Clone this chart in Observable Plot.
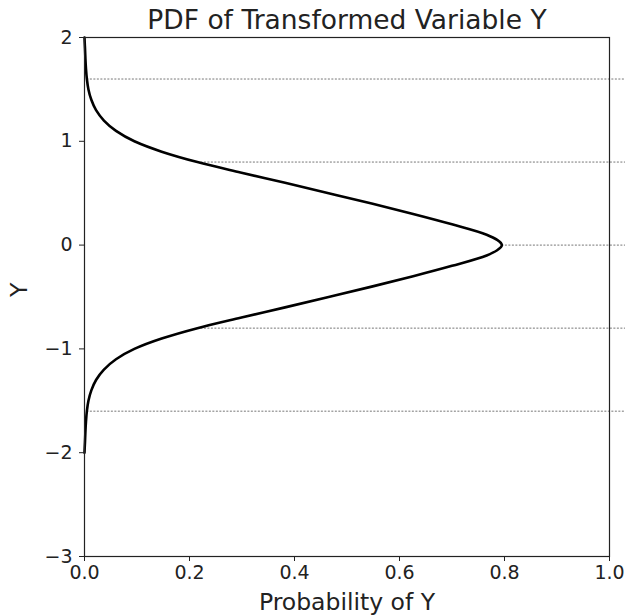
<!DOCTYPE html>
<html>
<head>
<meta charset="utf-8">
<script src="https://cdn.jsdelivr.net/npm/d3@7"></script>
<script src="https://cdn.jsdelivr.net/npm/@observablehq/plot@0.6"></script>
<style>
  html, body { margin: 0; padding: 0; background: #fff; }
</style>
</head>
<body>
<div id="chart"></div>
<script>
const titleText = "PDF of Transformed Variable Y";
const xLabelText = "Probability of Y";
const yLabelText = "Y";

// curve (Y value, probability)
const curveY = [-2.0, -1.95, -1.9, -1.8, -1.7, -1.6, -1.5, -1.4, -1.3, -1.2, -1.1, -1.0, -0.9, -0.8, -0.7, -0.6, -0.5, -0.4, -0.3, -0.2, -0.1, -0.05, 0.0,
                0.05, 0.1, 0.2, 0.3, 0.4, 0.5, 0.6, 0.7, 0.8, 0.9, 1.0, 1.1, 1.2, 1.3, 1.4, 1.5, 1.6, 1.7, 1.8, 1.9, 1.95, 2.0];
const curveP = [0.000, 0.0004, 0.0009, 0.0017, 0.0028, 0.0045, 0.0075, 0.013, 0.022, 0.037, 0.060, 0.095, 0.147, 0.215, 0.297, 0.382, 0.465, 0.547, 0.626, 0.700, 0.766, 0.786, 0.795,
                0.786, 0.766, 0.700, 0.626, 0.547, 0.465, 0.382, 0.297, 0.215, 0.147, 0.095, 0.060, 0.037, 0.022, 0.013, 0.0075, 0.0045, 0.0028, 0.0017, 0.0009, 0.0004, 0.000];

// dotted reference lines
const refY = [1.6, 0.8, 0.0, -0.8, -1.6];
const refStart = [0.0045, 0.215, 0.795, 0.215, 0.0045];
const refEnd = 1.04;

const xTicks = [0, 0.2, 0.4, 0.6, 0.8, 1.0];
const yTicks = [-3, -2, -1, 0, 1, 2];

const curve = curveY.map((y, i) => ({y, p: curveP[i]}));
const refs = refY.map((y, i) => ({y, x1: refStart[i]}));

const chart = Plot.plot({
  width: 625,
  height: 616,
  marginLeft: 84,
  marginRight: 16,
  marginTop: 37,
  marginBottom: 60,
  style: {fontFamily: "'DejaVu Sans', sans-serif", fontSize: "19px", color: "#222", background: "#fff", overflow: "visible"},
  x: {domain: [0, 1]},
  y: {domain: [-3, 2]},
  marks: [
    Plot.ruleY(refs, {y: "y", x1: "x1", x2: refEnd, stroke: "#666", strokeWidth: 0.9, strokeDasharray: "2,1.5", clip: false}),
    Plot.line(curve, {x: "p", y: "y", curve: "monotone-y", stroke: "#000", strokeWidth: 2.6}),
    Plot.frame({stroke: "#222", strokeWidth: 1.2}),
    Plot.axisX({ticks: xTicks, tickFormat: d => d.toFixed(1), tickSize: 5, tickPadding: 4, fontSize: 19, label: null, stroke: "#222"}),
    Plot.axisY({ticks: yTicks, tickFormat: d => d < 0 ? "\u2212" + Math.abs(d) : String(d), tickSize: 5, tickPadding: 7, fontSize: 19, label: null, stroke: "#222"}),
    Plot.text([titleText], {frameAnchor: "top", lineAnchor: "bottom", dy: -9, fontSize: 26.5, fill: "#222"}),
    Plot.text([xLabelText], {frameAnchor: "bottom", lineAnchor: "middle", dy: 46, fontSize: 23.5, fill: "#222"}),
    Plot.text([yLabelText], {frameAnchor: "left", lineAnchor: "middle", dx: -65, rotate: -90, fontSize: 23.5, fill: "#222"})
  ]
});
document.getElementById("chart").appendChild(chart);
</script>
</body>
</html>
